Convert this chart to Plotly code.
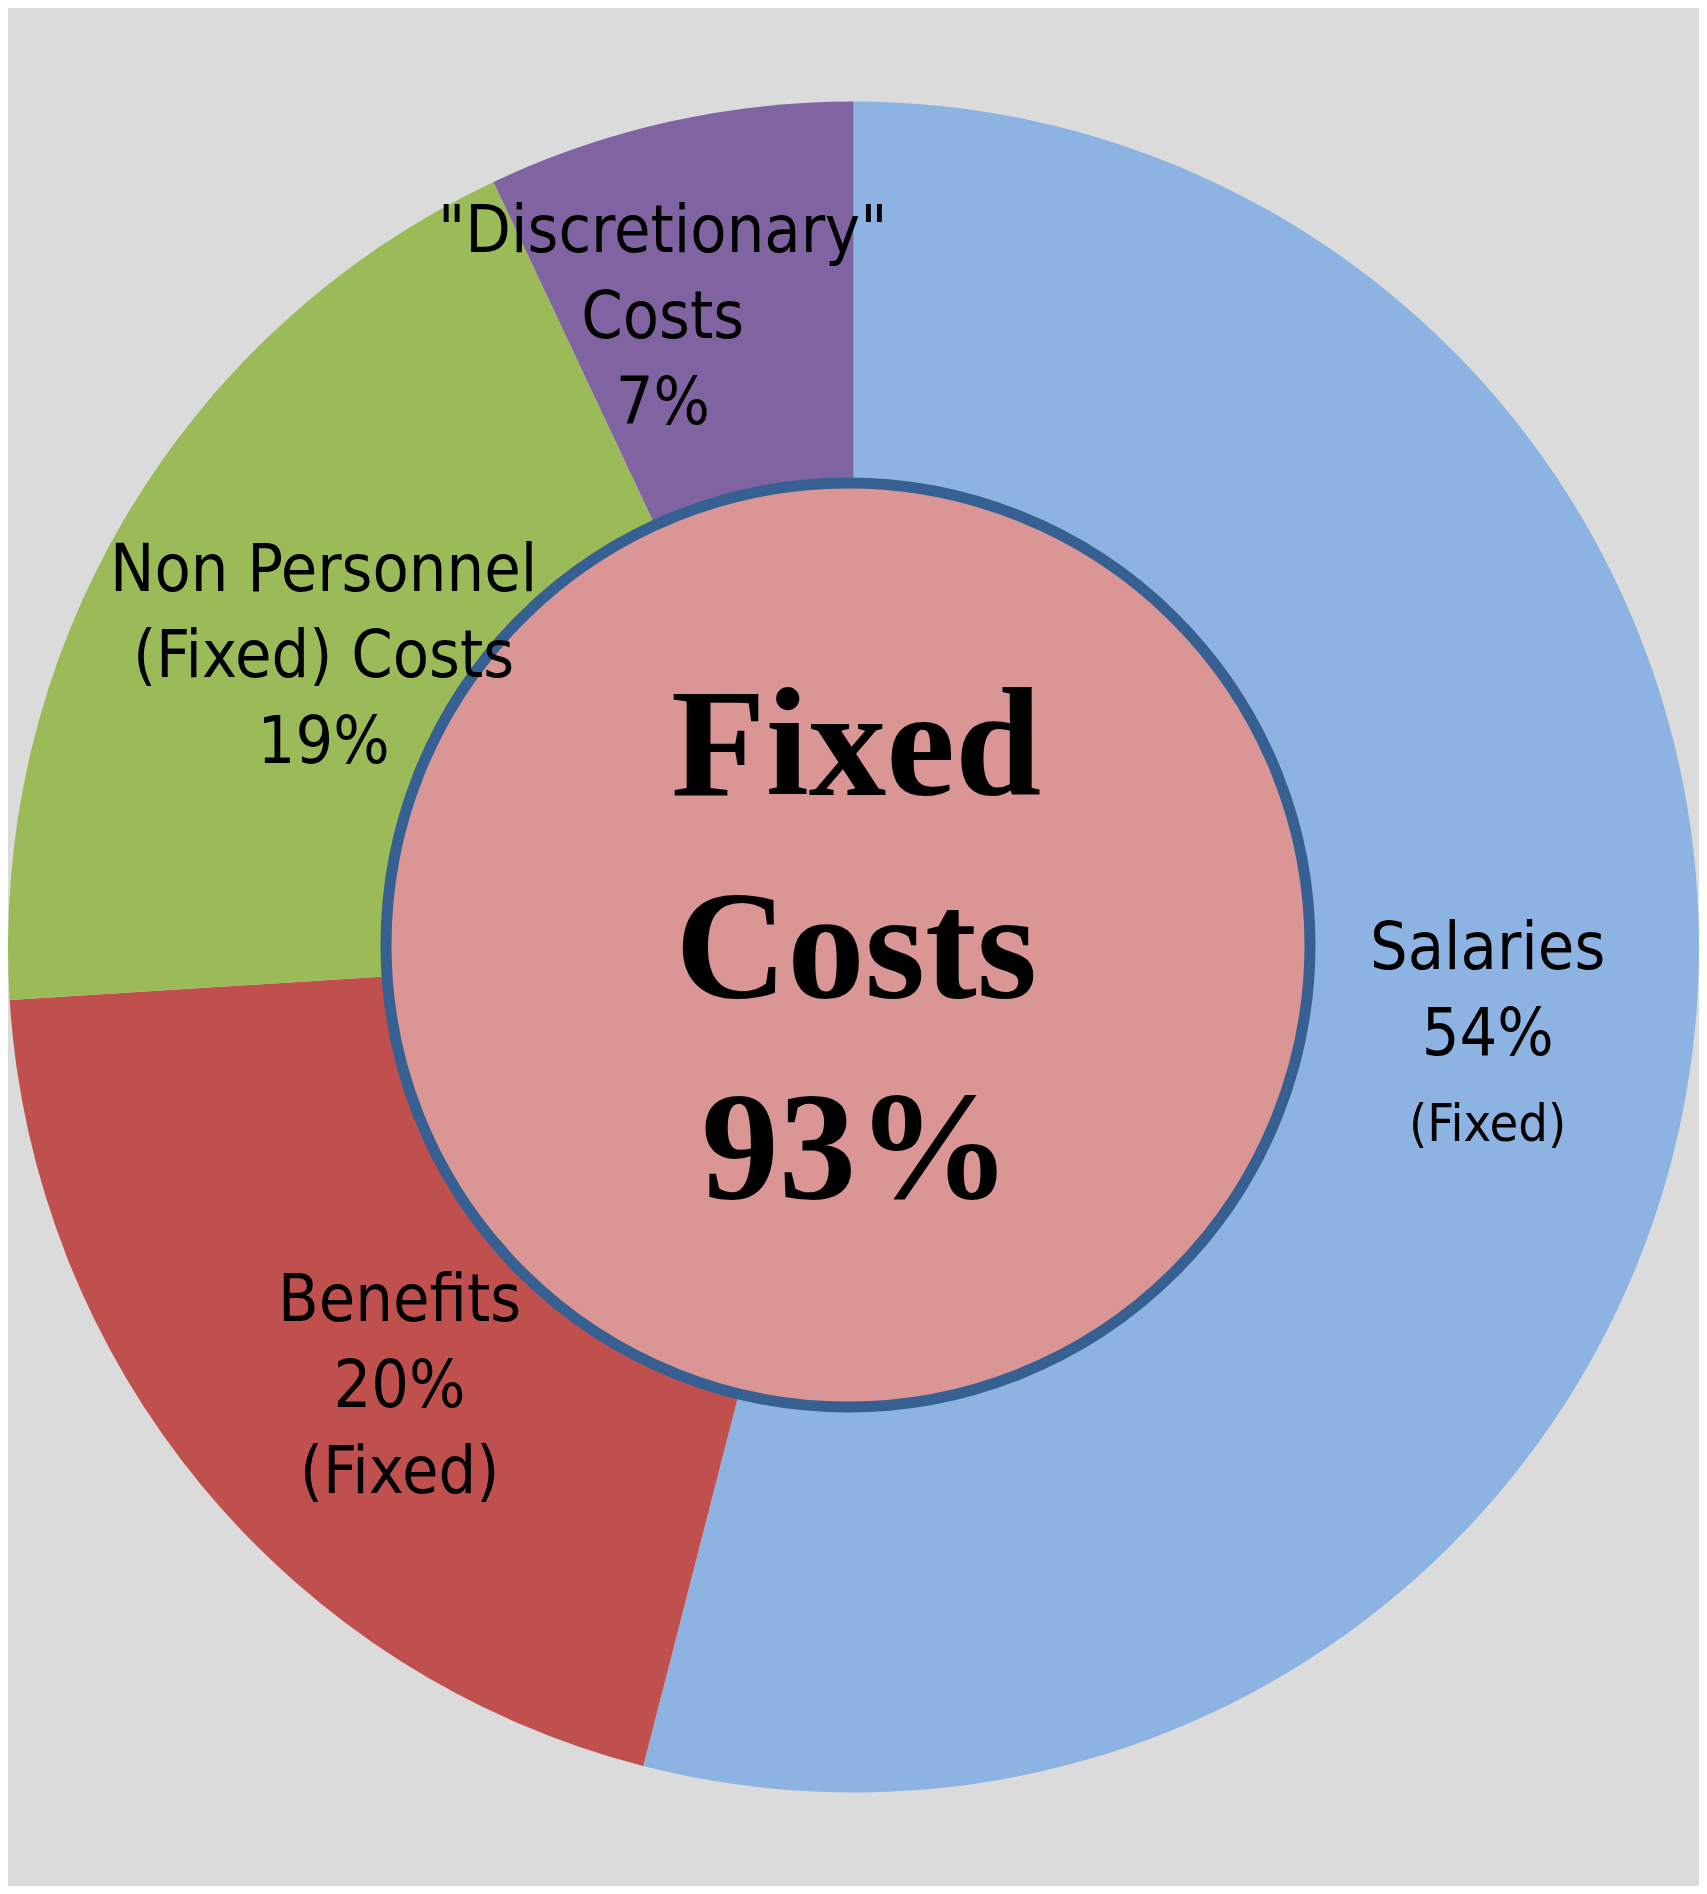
import plotly.graph_objects as go

# ---- data ----
categories = ["Salaries", "Benefits", "Non Personnel (Fixed) Costs", "\"Discretionary\" Costs"]
shares = [54, 20, 19, 7]
fixed_flags = [True, True, True, False]
slice_colors = ["#8DB3E2", "#C0504D", "#9BBB59", "#8064A2"]

fixed_total = sum(v for v, f in zip(shares, fixed_flags) if f)

W, H = 1691, 1878
BG = "#DBDBDB"
LABEL_FONT = "Liberation Sans Narrow, DejaVu Sans Condensed, Arial Narrow, sans-serif"

fig = go.Figure()

# outer pie
fig.add_trace(go.Pie(
    labels=categories,
    values=shares,
    sort=False,
    direction="clockwise",
    rotation=0,
    marker=dict(colors=slice_colors, line=dict(width=0)),
    textinfo="none",
    hoverinfo="label+percent",
    domain=dict(x=[0.0, 1.0], y=[0.0, 1.0]),
    showlegend=False,
))

# inner disc: total of fixed costs
cx, cy, r = 840 / W, 1 - 937 / H, 462
fig.add_trace(go.Pie(
    labels=["Fixed Costs"],
    values=[fixed_total],
    sort=False,
    marker=dict(colors=["#D99694"], line=dict(color="#376092", width=11)),
    textinfo="none",
    hoverinfo="label",
    domain=dict(x=[cx - r / W, cx + r / W], y=[cy - r / H, cy + r / H]),
    showlegend=False,
))

def lbl(text, x, y, size=66):
    fig.add_annotation(
        text=text, x=x, y=y, xref="paper", yref="paper",
        xanchor="center", yanchor="middle", showarrow=False,
        font=dict(family=LABEL_FONT, size=size, color="#000000"),
        align="center",
    )

lbl(f"{categories[3].replace(' Costs', '')}<br>Costs<br>{shares[3]}%", 0.3873, 0.8360)
lbl(f"Non Personnel<br>(Fixed) Costs<br>{shares[2]}%", 0.1863, 0.6555)
lbl(f"{categories[0]}<br>{shares[0]}%<br><span style='font-size:52px'>(Fixed)</span>", 0.8752, 0.4558)
lbl(f"{categories[1]}<br>{shares[1]}%<br>(Fixed)", 0.2318, 0.2668)

fig.add_annotation(
    text=f"<b>Fixed<br>Costs<br>{fixed_total}%</b>", x=0.5015, y=cy,
    xref="paper", yref="paper", xanchor="center", yanchor="middle",
    showarrow=False, align="center",
    font=dict(family="Liberation Serif, Times New Roman, serif", size=155, color="#000000"),
)

fig.update_layout(
    width=W, height=H,
    margin=dict(l=0, r=0, t=0, b=0),
    paper_bgcolor=BG, plot_bgcolor=BG,
    showlegend=False,
)

fig.write_html("out.html")
